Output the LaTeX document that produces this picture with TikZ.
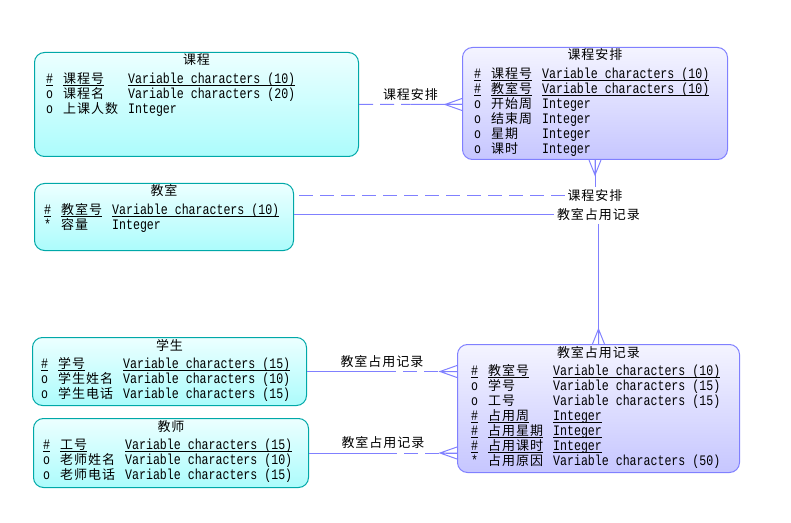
\documentclass[tikz,border=0pt]{standalone}
\usepackage{fontspec}
\setmainfont{Noto Sans CJK SC}[LetterSpace=7.7]
\setmonofont{Liberation Mono}[FakeStretch=0.8]
\usepackage{array}
\usetikzlibrary{calc}

\definecolor{entdraw}{RGB}{0,168,168}
\definecolor{enttop}{RGB}{236,255,255}
\definecolor{entbot}{RGB}{172,252,252}
\definecolor{asdraw}{RGB}{128,128,255}
\definecolor{astop}{RGB}{244,244,255}
\definecolor{asbot}{RGB}{198,198,255}
\definecolor{relcol}{RGB}{128,128,255}

% attribute tables
\newcommand\mt{\ttfamily\fontsize{14.5bp}{15bp}\selectfont}
\newcommand\pk[1]{\setbox0\hbox{#1}\rlap{\rule[-2.4bp]{\wd0}{0.8bp}}\box0}
\newcolumntype{K}{>{\rule[-3bp]{0pt}{15bp}\mt}l}
\newcolumntype{M}{>{\mt}l}
\renewcommand\arraystretch{0}
\setlength\tabcolsep{5bp}

% crow's foot: edge point, offset of the joint, half spread
\newcommand\crowfoot[3]{\draw[relline] ($(#1)+(#3)$) -- ($(#1)+(#2)$) -- ($(#1)-(#3)$) (#1) -- ($(#1)+(#2)$);}

\begin{document}
\begin{tikzpicture}[x=1bp,y=-1bp,
    every node/.style={font=\fontsize{13bp}{15bp}\selectfont},
    entbox/.style={draw=entdraw, line width=1bp, rounded corners=10bp,
        top color=enttop, bottom color=entbot, anchor=north west, inner sep=0},
    asbox/.style={entbox, draw=asdraw, top color=astop, bottom color=asbot},
    attr/.style={anchor=north west, inner sep=0},
    relline/.style={draw=relcol, line width=1bp},
    optline/.style={relline, dash pattern=on 14bp off 7bp},
    rellabel/.style={inner sep=2.5bp, fill=white}]
    \useasboundingbox (0,0) rectangle (791,523);

    % Entities
    \node[entbox, minimum width=324bp, minimum height=104bp] (kc) at (34,52) {};
    \node[anchor=base] (kct) at ($(kc.north)+(0,13)$) {课程};
    \node[attr] (kcb) at ($(kc.north west)+(12,19)$) {\begin{tabular}{@{}KlM@{}}
        \pk{\#} & \pk{课程号} & \pk{Variable characters (10)}\\
        o & 课程名 & Variable characters (20)\\
        o & 上课人数 & Integer
    \end{tabular}};

    \node[asbox, minimum width=265bp, minimum height=112bp] (kcap) at (462,47) {};
    \node[anchor=base] (kcapt) at ($(kcap.north)+(0,13)$) {课程安排};
    \node[attr] (kcapb) at ($(kcap.north west)+(12,19)$) {\begin{tabular}{@{}KlM@{}}
        \pk{\#} & \pk{课程号} & \pk{Variable characters (10)}\\
        \pk{\#} & \pk{教室号} & \pk{Variable characters (10)}\\
        o & 开始周 & Integer\\
        o & 结束周 & Integer\\
        o & 星期 & Integer\\
        o & 课时 & Integer
    \end{tabular}};

    \node[entbox, minimum width=259bp, minimum height=67bp] (js) at (34,183) {};
    \node[anchor=base] (jst) at ($(js.north)+(0,13)$) {教室};
    \node[attr] (jsb) at ($(js.north west)+(10,19)$) {\begin{tabular}{@{}KlM@{}}
        \pk{\#} & \pk{教室号} & \pk{Variable characters (10)}\\
        {*} & 容量 & Integer
    \end{tabular}};

    \node[entbox, minimum width=274bp, minimum height=68bp] (xs) at (32,337) {};
    \node[anchor=base] (xst) at ($(xs.north)+(0,13)$) {学生};
    \node[attr] (xsb) at ($(xs.north west)+(9,19)$) {\begin{tabular}{@{}KlM@{}}
        \pk{\#} & \pk{学号} & \pk{Variable characters (15)}\\
        o & 学生姓名 & Variable characters (10)\\
        o & 学生电话 & Variable characters (15)
    \end{tabular}};

    \node[entbox, minimum width=275bp, minimum height=69bp] (jsh) at (33,418) {};
    \node[anchor=base] (jsht) at ($(jsh.north)+(0,13)$) {教师};
    \node[attr] (jshb) at ($(jsh.north west)+(10,19)$) {\begin{tabular}{@{}KlM@{}}
        \pk{\#} & \pk{工号} & \pk{Variable characters (15)}\\
        o & 老师姓名 & Variable characters (10)\\
        o & 老师电话 & Variable characters (15)
    \end{tabular}};

    \node[asbox, minimum width=282bp, minimum height=128bp] (jszy) at (457,344) {};
    \node[anchor=base] (jszyt) at ($(jszy.north)+(0,13)$) {教室占用记录};
    \node[attr] (jszyb) at ($(jszy.north west)+(14,19)$) {\begin{tabular}{@{}KlM@{}}
        \pk{\#} & \pk{教室号} & \pk{Variable characters (10)}\\
        o & 学号 & Variable characters (15)\\
        o & 工号 & Variable characters (15)\\
        \pk{\#} & \pk{占用周} & \pk{Integer}\\
        \pk{\#} & \pk{占用星期} & \pk{Integer}\\
        \pk{\#} & \pk{占用课时} & \pk{Integer}\\
        {*} & 占用原因 & Variable characters (50)
    \end{tabular}};

    % 课程 -- 课程安排
    \coordinate (e1) at (kc.east -| kcap.west);
    \coordinate (m1) at ($(kc.east)!0.5!(e1)$);
    \draw[optline] (kc.east) -- (m1);
    \draw[relline] (m1) -- (e1);
    \crowfoot{e1}{-17,0}{0,6}
    \node[rellabel] (l1) at ($(m1)+(0,-10)$) {课程安排};

    % 课程安排 -- 教室
    \node[rellabel] (l2) at ($(kcap.south)+(0,36)$) {课程安排};
    \draw[relline] (kcap.south) -- (l2.north);
    \draw[optline] (l2.west) -- (l2.west -| js.east);
    \crowfoot{kcap.south}{0,15}{6,0}

    % 教室 -- 教室占用记录
    \node[rellabel] (l3) at ($(jszy.north)+(0,-129)$) {教室占用记录};
    \draw[relline] (l3.west -| js.east) -- (l3.west);
    \draw[relline] (l3.south) -- (jszy.north);
    \crowfoot{jszy.north}{0,-15}{6,0}

    % 学生, 教师 -- 教室占用记录
    \coordinate (e4) at (xs.east -| jszy.west);
    \coordinate (m4) at ($(xs.east)!0.5!(e4)$);
    \draw[relline] (xs.east) -- (m4);
    \draw[optline] (m4) -- (e4);
    \crowfoot{e4}{-17,0}{0,6}
    \node[rellabel] (l4) at ($(m4)+(0,-10)$) {教室占用记录};

    \coordinate (e5) at (jsh.east -| jszy.west);
    \coordinate (m5) at ($(jsh.east)!0.5!(e5)$);
    \draw[relline] (jsh.east) -- (m5);
    \draw[optline] (m5) -- (e5);
    \crowfoot{e5}{-17,0}{0,6}
    \node[rellabel] (l5) at ($(m5)+(0,-10)$) {教室占用记录};
\end{tikzpicture}
\end{document}
